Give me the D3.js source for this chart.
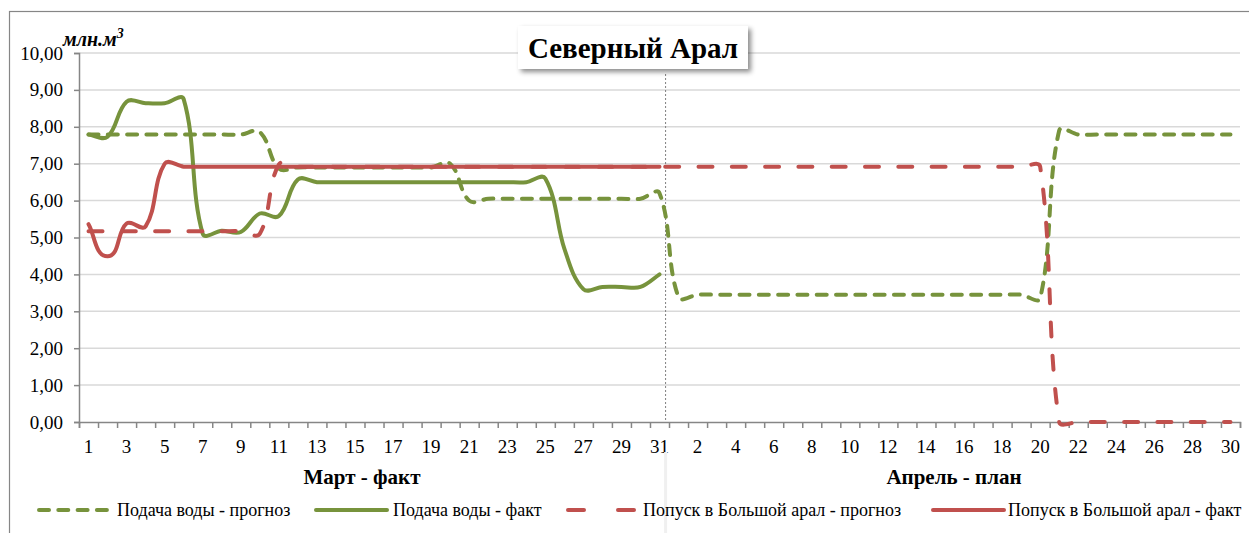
<!DOCTYPE html>
<html>
<head>
<meta charset="utf-8">
<script src="https://cdn.jsdelivr.net/npm/d3@7"></script>
<style>
  body { margin: 0; background: #fff; }
</style>
</head>
<body>
<div id="chart"></div>
<script>
const width = 1249;
const height = 533;
const serif = '"Liberation Serif", "Times New Roman", serif';

// categories: March 1..31 then April 1..30
const marchDays = d3.range(1, 32);
const aprilDays = d3.range(1, 31);
const categories = [...marchDays.map(d => 'm' + d), ...aprilDays.map(d => 'a' + d)];
const dayLabels = [...marchDays, ...aprilDays];

const yTicks = [0, 1, 2, 3, 4, 5, 6, 7, 8, 9, 10];

// Подача воды - прогноз (March + April)
const podachaPrognoz = [
  7.79, 7.79, 7.79, 7.79, 7.79, 7.79, 7.79, 7.79, 7.79, 7.86,
  6.87, 6.9, 6.9, 6.9, 6.9, 6.9, 6.9, 6.9, 6.9, 7.0,
  6.0, 6.05, 6.05, 6.05, 6.05, 6.05, 6.05, 6.05, 6.05, 6.05, 6.2,
  3.38, 3.45, 3.45, 3.45, 3.45, 3.45, 3.45, 3.45, 3.45, 3.45,
  3.45, 3.45, 3.45, 3.45, 3.45, 3.45, 3.45, 3.45, 3.45, 3.35,
  7.9, 7.79, 7.79, 7.79, 7.79, 7.79, 7.79, 7.79, 7.79, 7.79
];

// Подача воды - факт (March only)
const podachaFakt = [
  7.79, 7.73, 8.68, 8.64, 8.64, 8.75, 5.1, 5.18, 5.15, 5.65,
  5.58, 6.57, 6.5, 6.5, 6.5, 6.5, 6.5, 6.5, 6.5, 6.5,
  6.5, 6.5, 6.5, 6.5, 6.6, 4.7, 3.6, 3.66, 3.66, 3.66, 4.0
];

// Попуск в Большой арал - прогноз (March + April)
const popuskPrognoz = [
  5.17, 5.17, 5.17, 5.17, 5.17, 5.17, 5.17, 5.17, 5.17, 5.1,
  6.98, 6.92, 6.92, 6.92, 6.92, 6.92, 6.92, 6.92, 6.92, 6.92,
  6.92, 6.92, 6.92, 6.92, 6.92, 6.92, 6.92, 6.92, 6.92, 6.92, 6.92,
  6.92, 6.92, 6.92, 6.92, 6.92, 6.92, 6.92, 6.92, 6.92, 6.92,
  6.92, 6.92, 6.92, 6.92, 6.92, 6.92, 6.92, 6.92, 6.92, 6.92,
  0, 0, 0, 0, 0, 0, 0, 0, 0, 0
];

// Попуск в Большой арал - факт (March only)
const popuskFakt = [
  5.36, 4.49, 5.38, 5.3, 7.0, 6.92, 6.92, 6.92, 6.92, 6.92,
  6.92, 6.92, 6.92, 6.92, 6.92, 6.92, 6.92, 6.92, 6.92, 6.92,
  6.92, 6.92, 6.92, 6.92, 6.92, 6.92, 6.92, 6.92, 6.92, 6.92, 6.92
];

const seriesNames = [
  'Подача воды - прогноз',
  'Подача воды - факт',
  'Попуск в Большой арал - прогноз',
  'Попуск в Большой арал - факт'
];

const green = '#77933C';
const red = '#C0504D';

const series = [
  { name: seriesNames[0], values: podachaPrognoz, color: green, dash: '10,9.3', legendDash: '10,9.3' },
  { name: seriesNames[1], values: podachaFakt, color: green, dash: null, legendDash: null },
  { name: seriesNames[2], values: popuskPrognoz, color: red, dash: '14,19.3', legendDash: '16,34' },
  { name: seriesNames[3], values: popuskFakt, color: red, dash: null, legendDash: null }
];

// plot area
const plot = { left: 79, right: 1240, top: 53, bottom: 422 };

const svg = d3.select('#chart').append('svg')
  .attr('width', width)
  .attr('height', height);

const defs = svg.append('defs');
const shadow = defs.append('filter').attr('id', 'shadow')
  .attr('x', '-20%').attr('y', '-30%').attr('width', '140%').attr('height', '170%');
shadow.append('feDropShadow')
  .attr('dx', 3).attr('dy', 3).attr('stdDeviation', 2.5)
  .attr('flood-color', '#000').attr('flood-opacity', 0.45);

// outer chart border (right/bottom edges fall outside the picture)
svg.append('rect')
  .attr('x', 9.5).attr('y', 11.5)
  .attr('width', 1260).attr('height', 540)
  .attr('fill', 'none')
  .attr('stroke', '#868686')
  .attr('stroke-width', 1.2);

const x = d3.scaleBand()
  .domain(categories)
  .range([plot.left, plot.right])
  .padding(0);

const xEdge = d3.scaleLinear()
  .domain([0, categories.length])
  .range([plot.left, plot.right]);

const y = d3.scaleLinear()
  .domain([0, 10])
  .range([plot.bottom, plot.top]);

// gridlines
svg.append('g')
  .attr('class', 'gridlines')
  .selectAll('line')
  .data(yTicks.filter(d => d > 0))
  .join('line')
  .attr('x1', plot.left).attr('x2', plot.right)
  .attr('y1', d => y(d)).attr('y2', d => y(d))
  .attr('stroke', '#d9d9d9')
  .attr('stroke-width', 1.5);

// y axis
const yAxis = svg.append('g')
  .attr('transform', `translate(${plot.left},0)`)
  .call(d3.axisLeft(y).tickValues(yTicks).tickSize(5).tickPadding(11)
    .tickFormat(d => d3.format('.2f')(d).replace('.', ',')));
yAxis.select('.domain').attr('stroke', '#868686').attr('stroke-width', 1.5);
yAxis.selectAll('.tick line').attr('stroke', '#868686').attr('stroke-width', 1.5);
yAxis.selectAll('.tick text')
  .attr('fill', '#000')
  .style('font-family', serif)
  .style('font-size', '19px');

// x axis: boundary ticks
const xTicks = svg.append('g')
  .attr('transform', `translate(0,${plot.bottom})`)
  .call(d3.axisBottom(xEdge).tickValues(d3.range(categories.length + 1)).tickSize(6).tickFormat(''));
xTicks.select('.domain').attr('stroke', '#868686').attr('stroke-width', 1.5);
xTicks.selectAll('.tick line').attr('stroke', '#868686').attr('stroke-width', 1.5);

// x axis: day labels every second category
const xLabels = svg.append('g')
  .attr('transform', `translate(0,${plot.bottom})`)
  .call(d3.axisBottom(x)
    .tickValues(categories.filter((c, i) => i % 2 === 0))
    .tickSize(0).tickPadding(18)
    .tickFormat((c) => dayLabels[categories.indexOf(c)]));
xLabels.select('.domain').remove();
xLabels.selectAll('.tick text')
  .attr('fill', '#000')
  .style('font-family', serif)
  .style('font-size', '19px');

// month captions
const monthCaptions = [
  { text: 'Март - факт', x: 362 },
  { text: 'Апрель - план', x: 954 }
];
svg.append('g').selectAll('text')
  .data(monthCaptions)
  .join('text')
  .attr('x', d => d.x)
  .attr('y', 484)
  .attr('text-anchor', 'middle')
  .style('font-family', serif)
  .style('font-size', '21px')
  .style('font-weight', 'bold')
  .text(d => d.text);

// y unit label
const unit = svg.append('text')
  .attr('x', 63).attr('y', 46)
  .style('font-family', serif)
  .style('font-size', '20px')
  .style('font-weight', 'bold')
  .style('font-style', 'italic')
  .text('млн.м');
unit.append('tspan')
  .attr('dy', -8)
  .style('font-size', '14px')
  .text('3');

// divider between March and April
const divX = x('m31') + x.bandwidth() * 0.82;
svg.append('line')
  .attr('x1', divX).attr('x2', divX)
  .attr('y1', plot.bottom + 30).attr('y2', 533)
  .attr('stroke', '#f0f0f0')
  .attr('stroke-width', 3);
svg.append('line')
  .attr('x1', divX).attr('x2', divX)
  .attr('y1', 74).attr('y2', plot.bottom)
  .attr('stroke', '#7f7f7f')
  .attr('stroke-width', 1)
  .attr('stroke-dasharray', '2,2');

// Excel-like smoothing: bezier through the points, tangent along the
// neighbours, control arm proportional to the adjacent segment length
function smoothPath(values) {
  const pts = values.map((v, i) => [x(categories[i]) + x.bandwidth() / 2, y(v)]);
  const p = d3.path();
  const dist = (a, b) => Math.hypot(b[0] - a[0], b[1] - a[1]);
  const tangent = (i) => {
    const a = pts[Math.max(i - 1, 0)];
    const b = pts[Math.min(i + 1, pts.length - 1)];
    const dx = b[0] - a[0], dy = b[1] - a[1];
    const l = Math.hypot(dx, dy) || 1;
    return [dx / l, dy / l];
  };
  p.moveTo(pts[0][0], pts[0][1]);
  for (let i = 0; i < pts.length - 1; i++) {
    const a = pts[i], b = pts[i + 1];
    const d = dist(a, b) / 3;
    const ta = tangent(i), tb = tangent(i + 1);
    p.bezierCurveTo(a[0] + ta[0] * d, a[1] + ta[1] * d,
                    b[0] - tb[0] * d, b[1] - tb[1] * d,
                    b[0], b[1]);
  }
  return p.toString();
}

svg.append('g')
  .selectAll('path')
  .data(series)
  .join('path')
  .attr('d', d => smoothPath(d.values))
  .attr('fill', 'none')
  .attr('stroke', d => d.color)
  .attr('stroke-width', 4)
  .attr('stroke-linecap', 'round')
  .attr('stroke-linejoin', 'round')
  .attr('stroke-dasharray', d => d.dash);

// title box
const title = svg.append('g');
title.append('rect')
  .attr('x', 518).attr('y', 26)
  .attr('width', 230).attr('height', 43)
  .attr('fill', '#fff')
  .attr('filter', 'url(#shadow)');
title.append('text')
  .attr('x', 633).attr('y', 58)
  .attr('text-anchor', 'middle')
  .style('font-family', serif)
  .style('font-size', '29px')
  .style('font-weight', 'bold')
  .text('Северный Арал');

// legend
const legendItems = [
  { s: series[0], x0: 39, x1: 109, tx: 117 },
  { s: series[1], x0: 316, x1: 387, tx: 393 },
  { s: series[2], x0: 568, x1: 637, tx: 643 },
  { s: series[3], x0: 933, x1: 1004, tx: 1008 }
];
const legend = svg.append('g').selectAll('g')
  .data(legendItems)
  .join('g');
legend.append('line')
  .attr('x1', d => d.x0).attr('x2', d => d.x1)
  .attr('y1', 510).attr('y2', 510)
  .attr('stroke', d => d.s.color)
  .attr('stroke-width', 4)
  .attr('stroke-linecap', 'round')
  .attr('stroke-dasharray', d => d.s.legendDash);
legend.append('text')
  .attr('x', d => d.tx)
  .attr('y', 516)
  .style('font-family', serif)
  .style('font-size', '18px')
  .text(d => d.s.name);
</script>
</body>
</html>
